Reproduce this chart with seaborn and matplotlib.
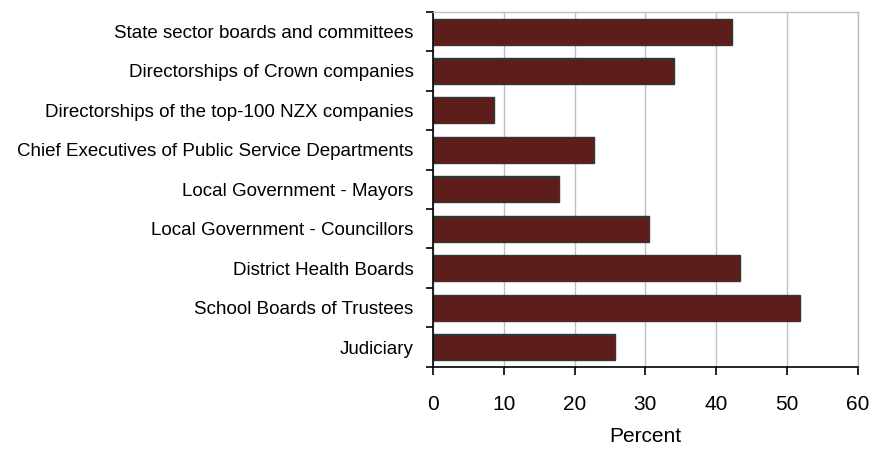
import matplotlib
matplotlib.use("Agg")
import matplotlib.pyplot as plt
import numpy as np
import pandas as pd
import seaborn as sns

categories = [
    "State sector boards and committees",
    "Directorships of Crown companies",
    "Directorships of the top-100 NZX companies",
    "Chief Executives of Public Service Departments",
    "Local Government - Mayors",
    "Local Government - Councillors",
    "District Health Boards",
    "School Boards of Trustees",
    "Judiciary",
]
percent = [42.2, 34.1, 8.6, 22.8, 17.8, 30.5, 43.3, 51.9, 25.7]
x_ticks = [0, 10, 20, 30, 40, 50, 60]

df = pd.DataFrame({"category": categories, "percent": percent})

sns.set_style("white")
plt.rcParams["font.family"] = ["Liberation Sans", "DejaVu Sans"]
plt.rcParams["text.color"] = "black"
plt.rcParams["axes.labelcolor"] = "black"
plt.rcParams["xtick.color"] = "black"
plt.rcParams["ytick.color"] = "black"

fig = plt.figure(figsize=(8.78, 4.54), dpi=100)
ax = fig.add_axes([0.493, 0.192, 0.484, 0.782])

sns.barplot(data=df, x="percent", y="category", orient="h", ax=ax,
            color="#5c1d1b", edgecolor="#2f3a36", linewidth=1.0,
            width=0.66, saturation=1)

ax.set_xlim(0, 60)
ax.set_ylim(len(categories) - 0.5, -0.5)
ax.set_xticks(x_ticks)
ax.set_xticklabels([str(t) for t in x_ticks], fontsize=15)
ax.xaxis.grid(True, color="#c0c0c0", linewidth=1.0)
ax.set_axisbelow(True)

# category labels without major ticks; short ticks at category boundaries
ax.tick_params(axis="y", which="major", left=False, length=0, labelsize=13.5, pad=14)
ax.set_yticks(np.arange(-0.5, len(categories) + 0.5, 1.0), minor=True)
ax.tick_params(axis="y", which="minor", left=True, length=5, width=1.2,
               color="black", direction="out")
ax.tick_params(axis="x", which="major", bottom=True, length=6, width=1.2,
               color="black", direction="out", pad=14)

ax.set_ylabel("")
ax.set_xlabel("Percent", fontsize=15, labelpad=10)

for side in ("left", "bottom"):
    ax.spines[side].set_color("black")
    ax.spines[side].set_linewidth(1.2)
for side in ("top", "right"):
    ax.spines[side].set_color("#c0c0c0")
    ax.spines[side].set_linewidth(1.0)

fig.savefig("out.png", dpi=100)
